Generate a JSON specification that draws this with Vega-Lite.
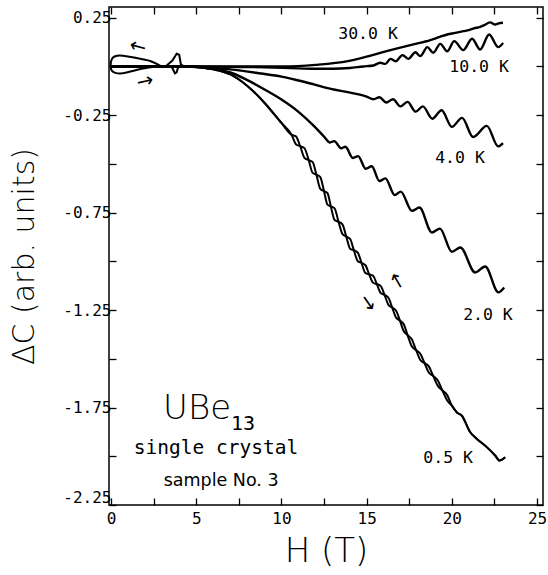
{
  "$schema": "https://vega.github.io/schema/vega-lite/v6.json",
  "width": 434,
  "height": 498,
  "autosize": {"type": "none"},
  "padding": {"left": 109, "top": 7, "right": 5, "bottom": 70},
  "background": "white",
  "config": {
    "view": {"stroke": "black", "strokeWidth": 1.5},
    "axis": {
      "domain": false, "grid": false, "tickColor": "black", "tickWidth": 1.3, "tickSize": -7,
      "labelColor": "black", "labelFont": "DejaVu Sans Mono", "labelFontSize": 16,
      "titleColor": "black", "titleFont": "DejaVu Sans", "titleFontWeight": 200
    }
  },
  "datasets": {
    "curves": [
      {"s":"30","H":0,"v":0},{"s":"30","H":4.5,"v":0},{"s":"30","H":7,"v":0},{"s":"30","H":10,"v":0.0},{"s":"30","H":12,"v":0.008},{"s":"30","H":13.9,"v":0.027},{"s":"30","H":15,"v":0.05},{"s":"30","H":15.8,"v":0.07},{"s":"30","H":16.8,"v":0.093},{"s":"30","H":17.74,"v":0.113},{"s":"30","H":18.74,"v":0.135},{"s":"30","H":19.3,"v":0.152},{"s":"30","H":19.73,"v":0.164},{"s":"30","H":20.2,"v":0.172},{"s":"30","H":20.67,"v":0.181},{"s":"30","H":21.0,"v":0.186},{"s":"30","H":21.3,"v":0.195},{"s":"30","H":21.66,"v":0.203},{"s":"30","H":21.9,"v":0.212},{"s":"30","H":22.25,"v":0.226},{"s":"30","H":22.54,"v":0.215},{"s":"30","H":22.75,"v":0.221},{"s":"30","H":23.0,"v":0.224},
      {"s":"10","H":0,"v":0},{"s":"10","H":4.5,"v":0},{"s":"10","H":7,"v":-0.002},{"s":"10","H":9,"v":-0.004},{"s":"10","H":10.5,"v":-0.008},{"s":"10","H":12,"v":-0.012},{"s":"10","H":13,"v":-0.012},{"s":"10","H":14,"v":-0.008},{"s":"10","H":14.8,"v":0.0},{"s":"10","H":15.4,"v":0.005},{"s":"10","H":15.8,"v":0.019},{"s":"10","H":16.1,"v":0.013},{"s":"10","H":16.4,"v":0.039},{"s":"10","H":16.7,"v":0.027},{"s":"10","H":17.1,"v":0.058},{"s":"10","H":17.45,"v":0.039},{"s":"10","H":17.86,"v":0.073},{"s":"10","H":18.15,"v":0.053},{"s":"10","H":18.56,"v":0.099},{"s":"10","H":18.91,"v":0.07},{"s":"10","H":19.32,"v":0.116},{"s":"10","H":19.73,"v":0.078},{"s":"10","H":20.14,"v":0.13},{"s":"10","H":20.67,"v":0.084},{"s":"10","H":21.19,"v":0.142},{"s":"10","H":21.66,"v":0.087},{"s":"10","H":22.19,"v":0.164},{"s":"10","H":22.72,"v":0.099},{"s":"10","H":23.01,"v":0.121},
      {"s":"4","H":0,"v":0},{"s":"4","H":4.5,"v":0},{"s":"4","H":5.3,"v":-0.005},{"s":"4","H":7.0,"v":-0.015},{"s":"4","H":8.8,"v":-0.036},{"s":"4","H":10.0,"v":-0.052},{"s":"4","H":11.0,"v":-0.072},{"s":"4","H":11.9,"v":-0.092},{"s":"4","H":12.9,"v":-0.115},{"s":"4","H":13.9,"v":-0.132},{"s":"4","H":14.6,"v":-0.145},{"s":"4","H":15.0,"v":-0.155},{"s":"4","H":15.4,"v":-0.168},{"s":"4","H":15.75,"v":-0.158},{"s":"4","H":16.15,"v":-0.185},{"s":"4","H":16.55,"v":-0.168},{"s":"4","H":16.98,"v":-0.205},{"s":"4","H":17.4,"v":-0.182},{"s":"4","H":17.88,"v":-0.232},{"s":"4","H":18.3,"v":-0.205},{"s":"4","H":18.85,"v":-0.268},{"s":"4","H":19.4,"v":-0.225},{"s":"4","H":20.0,"v":-0.31},{"s":"4","H":20.6,"v":-0.264},{"s":"4","H":21.25,"v":-0.362},{"s":"4","H":22.05,"v":-0.305},{"s":"4","H":22.72,"v":-0.41},{"s":"4","H":23.0,"v":-0.393},
      {"s":"2","H":0,"v":0},{"s":"2","H":4.5,"v":0},{"s":"2","H":5.3,"v":-0.004},{"s":"2","H":6.2,"v":-0.015},{"s":"2","H":7.0,"v":-0.031},{"s":"2","H":8.0,"v":-0.07},{"s":"2","H":9.0,"v":-0.118},{"s":"2","H":10.0,"v":-0.17},{"s":"2","H":11.0,"v":-0.233},{"s":"2","H":11.9,"v":-0.305},{"s":"2","H":12.5,"v":-0.36},{"s":"2","H":12.85,"v":-0.39},{"s":"2","H":13.1,"v":-0.383},{"s":"2","H":13.5,"v":-0.42},{"s":"2","H":13.75,"v":-0.412},{"s":"2","H":14.2,"v":-0.47},{"s":"2","H":14.5,"v":-0.46},{"s":"2","H":14.95,"v":-0.525},{"s":"2","H":15.3,"v":-0.512},{"s":"2","H":15.75,"v":-0.588},{"s":"2","H":16.1,"v":-0.574},{"s":"2","H":16.65,"v":-0.66},{"s":"2","H":17.0,"v":-0.642},{"s":"2","H":17.66,"v":-0.741},{"s":"2","H":18.1,"v":-0.724},{"s":"2","H":18.83,"v":-0.852},{"s":"2","H":19.3,"v":-0.832},{"s":"2","H":20.0,"v":-0.951},{"s":"2","H":20.5,"v":-0.929},{"s":"2","H":21.37,"v":-1.057},{"s":"2","H":21.96,"v":-1.026},{"s":"2","H":22.73,"v":-1.159},{"s":"2","H":23.07,"v":-1.134}
    ],
    "half": [
      {"s":"a","H":0,"v":0},{"s":"a","H":4.5,"v":0},{"s":"a","H":5.3,"v":-0.005},{"s":"a","H":6.0,"v":-0.015},{"s":"a","H":7.0,"v":-0.041},{"s":"a","H":8.0,"v":-0.1},{"s":"a","H":9.0,"v":-0.186},{"s":"a","H":10.0,"v":-0.29},
      {"s":"a","H":10.6,"v":-0.351},{"s":"a","H":10.85,"v":-0.359},{"s":"a","H":11.1,"v":-0.409},{"s":"a","H":11.35,"v":-0.469},{"s":"a","H":11.6,"v":-0.481},{"s":"a","H":11.83,"v":-0.49},{"s":"a","H":12.05,"v":-0.555},{"s":"a","H":12.28,"v":-0.628},{"s":"a","H":12.5,"v":-0.64},{"s":"a","H":12.7,"v":-0.649},{"s":"a","H":12.9,"v":-0.718},{"s":"a","H":13.12,"v":-0.788},{"s":"a","H":13.35,"v":-0.797},{"s":"a","H":13.58,"v":-0.81},{"s":"a","H":13.8,"v":-0.872},{"s":"a","H":14.03,"v":-0.935},{"s":"a","H":14.25,"v":-0.943},{"s":"a","H":14.48,"v":-0.955},{"s":"a","H":14.7,"v":-1.008},{"s":"a","H":14.93,"v":-1.06},{"s":"a","H":15.15,"v":-1.067},{"s":"a","H":15.38,"v":-1.074},{"s":"a","H":15.6,"v":-1.117},{"s":"a","H":15.83,"v":-1.163},{"s":"a","H":16.05,"v":-1.172},{"s":"a","H":16.28,"v":-1.187},{"s":"a","H":16.5,"v":-1.237},{"s":"a","H":16.73,"v":-1.289},{"s":"a","H":16.95,"v":-1.303},{"s":"a","H":17.18,"v":-1.323},{"s":"a","H":17.4,"v":-1.378},{"s":"a","H":17.65,"v":-1.436},{"s":"a","H":17.9,"v":-1.455},{"s":"a","H":18.15,"v":-1.474},{"s":"a","H":18.4,"v":-1.522},{"s":"a","H":18.65,"v":-1.571},{"s":"a","H":18.9,"v":-1.587},{"s":"a","H":19.18,"v":-1.611},{"s":"a","H":19.45,"v":-1.663},{"s":"a","H":19.72,"v":-1.713},{"s":"a","H":20.0,"v":-1.74},
      {"s":"a","H":20.3,"v":-1.775},{"s":"a","H":20.59,"v":-1.792},{"s":"a","H":21.08,"v":-1.877},{"s":"a","H":21.47,"v":-1.911},{"s":"a","H":22.05,"v":-1.953},{"s":"a","H":22.54,"v":-1.996},{"s":"a","H":22.8,"v":-2.022},{"s":"a","H":23.13,"v":-2.005},
      {"s":"b","H":0,"v":0},{"s":"b","H":4.5,"v":0},{"s":"b","H":5.3,"v":-0.005},{"s":"b","H":6.0,"v":-0.015},{"s":"b","H":7.0,"v":-0.041},{"s":"b","H":8.0,"v":-0.1},{"s":"b","H":9.0,"v":-0.186},{"s":"b","H":10.0,"v":-0.29},
      {"s":"b","H":10.6,"v":-0.351},{"s":"b","H":10.85,"v":-0.399},{"s":"b","H":11.1,"v":-0.409},{"s":"b","H":11.35,"v":-0.419},{"s":"b","H":11.6,"v":-0.481},{"s":"b","H":11.83,"v":-0.546},{"s":"b","H":12.05,"v":-0.555},{"s":"b","H":12.28,"v":-0.568},{"s":"b","H":12.5,"v":-0.64},{"s":"b","H":12.7,"v":-0.709},{"s":"b","H":12.9,"v":-0.718},{"s":"b","H":13.12,"v":-0.728},{"s":"b","H":13.35,"v":-0.797},{"s":"b","H":13.58,"v":-0.86},{"s":"b","H":13.8,"v":-0.872},{"s":"b","H":14.03,"v":-0.885},{"s":"b","H":14.25,"v":-0.943},{"s":"b","H":14.48,"v":-0.999},{"s":"b","H":14.7,"v":-1.008},{"s":"b","H":14.93,"v":-1.02},{"s":"b","H":15.15,"v":-1.067},{"s":"b","H":15.38,"v":-1.11},{"s":"b","H":15.6,"v":-1.117},{"s":"b","H":15.83,"v":-1.127},{"s":"b","H":16.05,"v":-1.172},{"s":"b","H":16.28,"v":-1.223},{"s":"b","H":16.5,"v":-1.237},{"s":"b","H":16.73,"v":-1.253},{"s":"b","H":16.95,"v":-1.303},{"s":"b","H":17.18,"v":-1.359},{"s":"b","H":17.4,"v":-1.378},{"s":"b","H":17.65,"v":-1.4},{"s":"b","H":17.9,"v":-1.455},{"s":"b","H":18.15,"v":-1.506},{"s":"b","H":18.4,"v":-1.522},{"s":"b","H":18.65,"v":-1.539},{"s":"b","H":18.9,"v":-1.587},{"s":"b","H":19.18,"v":-1.639},{"s":"b","H":19.45,"v":-1.663},{"s":"b","H":19.72,"v":-1.685},{"s":"b","H":20.0,"v":-1.74},
      {"s":"b","H":20.3,"v":-1.775},{"s":"b","H":20.59,"v":-1.792},{"s":"b","H":21.08,"v":-1.877},{"s":"b","H":21.47,"v":-1.911},{"s":"b","H":22.05,"v":-1.953},{"s":"b","H":22.54,"v":-1.996},{"s":"b","H":22.8,"v":-2.022},{"s":"b","H":23.13,"v":-2.005}
    ],
    "loop": [
      {"i":1,"H":2.9,"v":0.003},{"i":2,"H":2.3,"v":0.028},{"i":3,"H":1.35,"v":0.046},{"i":4,"H":0.7,"v":0.055},{"i":5,"H":0.35,"v":0.055},{"i":6,"H":0.1,"v":0.045},{"i":7,"H":0.0,"v":0.025},{"i":8,"H":-0.02,"v":0.0},{"i":9,"H":0.03,"v":-0.02},{"i":10,"H":0.25,"v":-0.033},{"i":11,"H":0.7,"v":-0.035},{"i":12,"H":1.2,"v":-0.025},{"i":13,"H":1.8,"v":-0.012},{"i":14,"H":2.9,"v":0.003}
    ],
    "spikes": [
      {"s":"up","H":3.2,"v":0.0},{"s":"up","H":3.6,"v":0.03},{"s":"up","H":3.85,"v":0.065},{"s":"up","H":4.0,"v":0.06},{"s":"up","H":4.1,"v":0.01},{"s":"up","H":4.3,"v":0.0},
      {"s":"dn","H":3.55,"v":0.0},{"s":"dn","H":3.75,"v":-0.035},{"s":"dn","H":3.85,"v":-0.03},{"s":"dn","H":3.95,"v":0.0}
    ],
    "labels": [
      {"t":"30.0 K","H":15.08,"v":0.169},{"t":"10.0 K","H":21.6,"v":-0.003},{"t":"4.0 K","H":20.48,"v":-0.471},{"t":"2.0 K","H":22.12,"v":-1.276},{"t":"0.5 K","H":19.78,"v":-2.008}
    ],
    "arrows": [
      {"a":"1","t":"←","H":1.58,"v":0.1},{"a":"2","t":"→","H":2.0,"v":-0.077},{"a":"3","t":"→","H":15.08,"v":-1.214},{"a":"4","t":"←","H":16.78,"v":-1.101}
    ],
    "notes": [
      {"k":"sc","t":"single crystal","H":6.16,"v":-1.957},{"k":"sn","t":"sample No. 3","H":6.46,"v":-2.126},{"k":"ube","t":"UBe","H":3.05,"v":-1.808},{"k":"sub","t":"13","H":7.04,"v":-1.866}
    ]
  },
  "resolve": {"axis": {"x": "independent", "y": "independent"}},
  "layer": [
    {
      "data": {"name": "curves"},
      "mark": {"type": "line", "interpolate": "monotone", "color": "black", "strokeWidth": 2.4},
      "encoding": {
        "x": {"field": "H", "type": "quantitative", "scale": {"domain": [-0.12, 25.35], "nice": false, "zero": false},
              "axis": {"orient": "bottom", "values": [0,2.5,5,7.5,10,12.5,15,17.5,20,22.5,25], "format": ".1~f", "labelExpr": "datum.value % 5 == 0 ? datum.label : ''", "labelPadding": 12, "labelDx": 3, "title": "H  (T)", "titleFontSize": 34, "titlePadding": 8}},
        "y": {"field": "v", "type": "quantitative", "scale": {"domain": [-2.25, 0.305], "nice": false, "zero": false},
              "axis": {"orient": "left", "values": [-2.25,-2,-1.75,-1.5,-1.25,-1,-0.75,-0.5,-0.25,0,0.25], "labelExpr": "abs(round(datum.value*4)) % 2 == 1 ? replace(format(datum.value, '.2f'), '\u2212', '-') : ''", "labelPadding": 5, "labelFlush": true, "title": "ΔC (arb. units)", "titleFontSize": 30, "titlePadding": 23}},
        "detail": {"field": "s"}
      }
    },
    {
      "data": {"name": "half"},
      "mark": {"type": "line", "interpolate": "monotone", "color": "black", "strokeWidth": 2},
      "encoding": {
        "x": {"field": "H", "type": "quantitative", "scale": {"domain": [-0.12, 25.35], "nice": false, "zero": false},
              "axis": {"orient": "top", "values": [0,2.5,5,7.5,10,12.5,15,17.5,20,22.5,25], "labels": false, "title": null}},
        "y": {"field": "v", "type": "quantitative", "scale": {"domain": [-2.25, 0.305], "nice": false, "zero": false},
              "axis": {"orient": "right", "values": [-2.25,-2,-1.75,-1.5,-1.25,-1,-0.75,-0.5,-0.25,0,0.25], "labels": false, "title": null}},
        "detail": {"field": "s"}
      }
    },
    {
      "data": {"name": "loop"},
      "mark": {"type": "line", "interpolate": "cardinal", "color": "black", "strokeWidth": 2},
      "encoding": {
        "x": {"field": "H", "type": "quantitative", "scale": {"domain": [-0.12, 25.35], "nice": false, "zero": false}, "axis": null},
        "y": {"field": "v", "type": "quantitative", "scale": {"domain": [-2.25, 0.305], "nice": false, "zero": false}, "axis": null},
        "order": {"field": "i", "type": "quantitative"}
      }
    },
    {
      "data": {"name": "spikes"},
      "mark": {"type": "line", "color": "black", "strokeWidth": 2},
      "encoding": {
        "x": {"field": "H", "type": "quantitative", "scale": {"domain": [-0.12, 25.35], "nice": false, "zero": false}, "axis": null},
        "y": {"field": "v", "type": "quantitative", "scale": {"domain": [-2.25, 0.305], "nice": false, "zero": false}, "axis": null},
        "detail": {"field": "s"}
      }
    },
    {
      "data": {"name": "labels"},
      "mark": {"type": "text", "font": "DejaVu Sans Mono", "fontSize": 16.5, "color": "black", "align": "center", "baseline": "middle"},
      "encoding": {
        "x": {"field": "H", "type": "quantitative", "scale": {"domain": [-0.12, 25.35], "nice": false, "zero": false}, "axis": null},
        "y": {"field": "v", "type": "quantitative", "scale": {"domain": [-2.25, 0.305], "nice": false, "zero": false}, "axis": null},
        "text": {"field": "t"}
      }
    },
    {
      "data": {"name": "notes"},
      "transform": [{"filter": "datum.k == 'sc'"}],
      "mark": {"type": "text", "font": "DejaVu Sans Mono", "fontSize": 19.5, "color": "black", "align": "center", "baseline": "middle"},
      "encoding": {
        "x": {"field": "H", "type": "quantitative", "scale": {"domain": [-0.12, 25.35], "nice": false, "zero": false}, "axis": null},
        "y": {"field": "v", "type": "quantitative", "scale": {"domain": [-2.25, 0.305], "nice": false, "zero": false}, "axis": null},
        "text": {"field": "t"}
      }
    },
    {
      "data": {"name": "notes"},
      "transform": [{"filter": "datum.k == 'sn'"}],
      "mark": {"type": "text", "font": "DejaVu Sans", "fontSize": 17.5, "color": "black", "align": "center", "baseline": "middle"},
      "encoding": {
        "x": {"field": "H", "type": "quantitative", "scale": {"domain": [-0.12, 25.35], "nice": false, "zero": false}, "axis": null},
        "y": {"field": "v", "type": "quantitative", "scale": {"domain": [-2.25, 0.305], "nice": false, "zero": false}, "axis": null},
        "text": {"field": "t"}
      }
    },
    {
      "data": {"name": "notes"},
      "transform": [{"filter": "datum.k == 'ube'"}],
      "mark": {"type": "text", "font": "DejaVu Sans", "fontWeight": 200, "fontSize": 34, "color": "black", "align": "left", "baseline": "alphabetic"},
      "encoding": {
        "x": {"field": "H", "type": "quantitative", "scale": {"domain": [-0.12, 25.35], "nice": false, "zero": false}, "axis": null},
        "y": {"field": "v", "type": "quantitative", "scale": {"domain": [-2.25, 0.305], "nice": false, "zero": false}, "axis": null},
        "text": {"field": "t"}
      }
    },
    {
      "data": {"name": "notes"},
      "transform": [{"filter": "datum.k == 'sub'"}],
      "mark": {"type": "text", "font": "DejaVu Sans Mono", "fontSize": 20, "color": "black", "align": "left", "baseline": "alphabetic"},
      "encoding": {
        "x": {"field": "H", "type": "quantitative", "scale": {"domain": [-0.12, 25.35], "nice": false, "zero": false}, "axis": null},
        "y": {"field": "v", "type": "quantitative", "scale": {"domain": [-2.25, 0.305], "nice": false, "zero": false}, "axis": null},
        "text": {"field": "t"}
      }
    },
    {
      "data": {"name": "arrows"},
      "transform": [{"filter": "datum.a == '1'"}],
      "mark": {"type": "text", "font": "DejaVu Sans", "fontSize": 20, "color": "black", "align": "center", "baseline": "middle", "angle": 15},
      "encoding": {
        "x": {"field": "H", "type": "quantitative", "scale": {"domain": [-0.12, 25.35], "nice": false, "zero": false}, "axis": null},
        "y": {"field": "v", "type": "quantitative", "scale": {"domain": [-2.25, 0.305], "nice": false, "zero": false}, "axis": null},
        "text": {"field": "t"}
      }
    },
    {
      "data": {"name": "arrows"},
      "transform": [{"filter": "datum.a == '2'"}],
      "mark": {"type": "text", "font": "DejaVu Sans", "fontSize": 20, "color": "black", "align": "center", "baseline": "middle", "angle": 347},
      "encoding": {
        "x": {"field": "H", "type": "quantitative", "scale": {"domain": [-0.12, 25.35], "nice": false, "zero": false}, "axis": null},
        "y": {"field": "v", "type": "quantitative", "scale": {"domain": [-2.25, 0.305], "nice": false, "zero": false}, "axis": null},
        "text": {"field": "t"}
      }
    },
    {
      "data": {"name": "arrows"},
      "transform": [{"filter": "datum.a == '3'"}],
      "mark": {"type": "text", "font": "DejaVu Sans", "fontSize": 20, "color": "black", "align": "center", "baseline": "middle", "angle": 55},
      "encoding": {
        "x": {"field": "H", "type": "quantitative", "scale": {"domain": [-0.12, 25.35], "nice": false, "zero": false}, "axis": null},
        "y": {"field": "v", "type": "quantitative", "scale": {"domain": [-2.25, 0.305], "nice": false, "zero": false}, "axis": null},
        "text": {"field": "t"}
      }
    },
    {
      "data": {"name": "arrows"},
      "transform": [{"filter": "datum.a == '4'"}],
      "mark": {"type": "text", "font": "DejaVu Sans", "fontSize": 20, "color": "black", "align": "center", "baseline": "middle", "angle": 60},
      "encoding": {
        "x": {"field": "H", "type": "quantitative", "scale": {"domain": [-0.12, 25.35], "nice": false, "zero": false}, "axis": null},
        "y": {"field": "v", "type": "quantitative", "scale": {"domain": [-2.25, 0.305], "nice": false, "zero": false}, "axis": null},
        "text": {"field": "t"}
      }
    }
  ]
}
